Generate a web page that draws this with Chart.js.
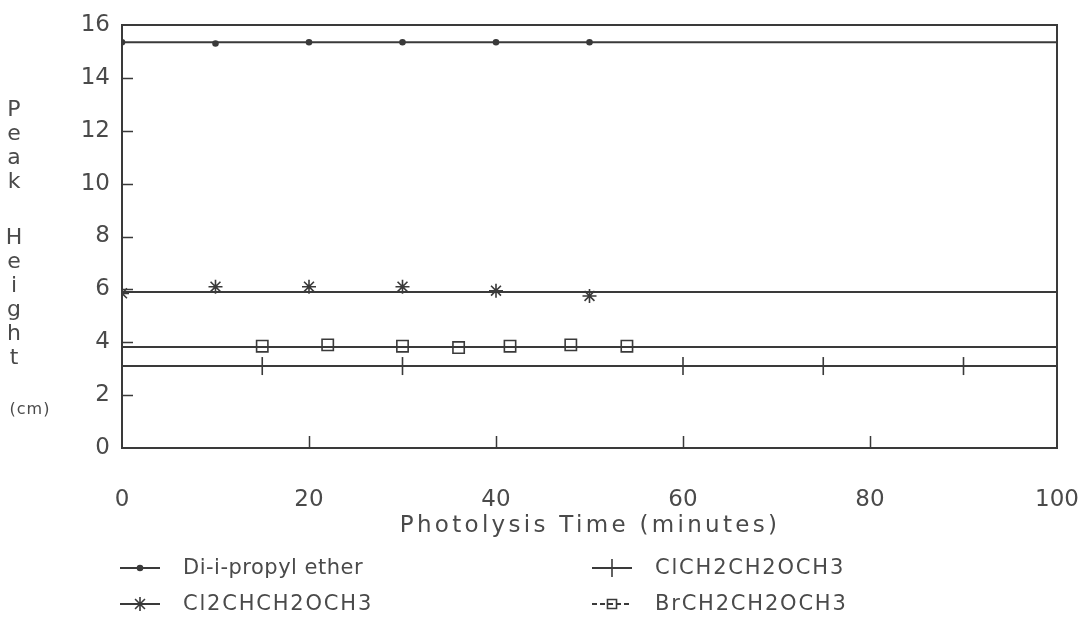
<!DOCTYPE html>
<html>
<head>
<meta charset="utf-8">
<script src="https://cdn.jsdelivr.net/npm/chart.js@4.4.1/dist/chart.umd.min.js"></script>
<style>
  html, body { margin: 0; padding: 0; background: #ffffff; }
  #wrap { width: 1080px; height: 626px; }
</style>
</head>
<body>
<div id="wrap"><canvas id="chart" width="1080" height="626"></canvas></div>
<script>
// Peak heights (cm) of each compound against photolysis time (minutes)
const seriesNames = ['Di-i-propyl ether', 'Cl2CHCH2OCH3', 'ClCH2CH2OCH3', 'BrCH2CH2OCH3'];

const etherTimes = [0, 10, 20, 30, 40, 50];
const etherHeights = [15.35, 15.3, 15.35, 15.35, 15.35, 15.35];

const dichloroTimes = [0, 10, 20, 30, 40, 50];
const dichloroHeights = [5.85, 6.1, 6.1, 6.1, 5.95, 5.75];

const chloroTimes = [15, 30, 60, 75, 90];
const chloroHeights = [3.1, 3.1, 3.1, 3.1, 3.1];

const bromoTimes = [15, 22, 30, 36, 41.5, 48, 54];
const bromoHeights = [3.85, 3.9, 3.85, 3.8, 3.85, 3.9, 3.85];

// Level of the flat trend line drawn across the plot for each compound
const trendLevels = [15.35, 5.9, 3.1, 3.82];

const timeRange = [0, 100];
const heightRange = [0, 16];
const yTitleWord1 = ['P', 'e', 'a', 'k'];
const yTitleWord2 = ['H', 'e', 'i', 'g', 'h', 't'];
const yTitleUnit = '(cm)';
const xTitle = 'Photolysis Time (minutes)';

const INK = '#3a3a3a';
const TEXT = '#4a4a4a';
const FONT = "'DejaVu Sans', sans-serif";

const pairs = (xs, ys) => xs.map((t, i) => ({ x: t, y: ys[i] }));
const flat = (v) => [{ x: timeRange[0], y: v }, { x: timeRange[1], y: v }];

const markerStyles = [
  { pointStyle: 'circle', radius: 2.5, rotation: 0, fill: INK },
  { pointStyle: 'star', radius: 7, rotation: 0, fill: 'transparent' },
  { pointStyle: 'line', radius: 9, rotation: 90, fill: 'transparent' },
  { pointStyle: 'rect', radius: 8, rotation: 0, fill: 'transparent' }
];
const seriesTimes = [etherTimes, dichloroTimes, chloroTimes, bromoTimes];
const seriesHeights = [etherHeights, dichloroHeights, chloroHeights, bromoHeights];

const datasets = [];
seriesNames.forEach((name, i) => {
  const m = markerStyles[i];
  datasets.push({
    type: 'scatter',
    label: name,
    data: pairs(seriesTimes[i], seriesHeights[i]),
    pointStyle: m.pointStyle,
    pointRadius: m.radius,
    pointRotation: m.rotation,
    pointBackgroundColor: m.fill,
    pointBorderColor: INK,
    pointBorderWidth: 1.6,
    showLine: false
  });
  datasets.push({
    type: 'line',
    label: name + ' trend',
    data: flat(trendLevels[i]),
    borderColor: INK,
    borderWidth: 2,
    pointRadius: 0,
    fill: false
  });
});

function drawMarker(ctx, i, x, y) {
  const m = markerStyles[i];
  ctx.save();
  ctx.strokeStyle = INK;
  ctx.fillStyle = m.fill;
  ctx.lineWidth = 1.6;
  Chart.helpers.drawPoint(ctx, {
    pointStyle: m.pointStyle, radius: m.radius * (i === 3 ? 0.8 : 1),
    rotation: m.rotation, borderWidth: 1.6
  }, x, y);
  ctx.restore();
}

// Keep library-drawn text at normal spacing
const resetSpacing = {
  id: 'resetSpacing',
  beforeDraw(chart) { chart.ctx.letterSpacing = '0px'; }
};

const decorations = {
  id: 'decorations',
  afterDraw(chart) {
    const { ctx, chartArea: a, scales } = chart;
    const xs = scales.x, ys = scales.y;
    ctx.save();
    ctx.strokeStyle = INK;
    ctx.lineWidth = 2;
    // top and right edges of the frame
    ctx.beginPath();
    ctx.moveTo(a.left, a.top);
    ctx.lineTo(a.right, a.top);
    ctx.lineTo(a.right, a.bottom);
    ctx.stroke();

    // inward tick marks
    ctx.lineWidth = 1.5;
    ctx.beginPath();
    ys.ticks.forEach(t => {
      if (t.value > heightRange[0] && t.value < heightRange[1]) {
        const py = Math.round(ys.getPixelForValue(t.value)) + 0.5;
        ctx.moveTo(a.left, py);
        ctx.lineTo(a.left + 11, py);
      }
    });
    xs.ticks.forEach(t => {
      if (t.value > timeRange[0] && t.value < timeRange[1]) {
        const px = Math.round(xs.getPixelForValue(t.value)) + 0.5;
        ctx.moveTo(px, a.bottom);
        ctx.lineTo(px, a.bottom - 12);
      }
    });
    ctx.stroke();

    // x-axis title, widely spaced
    ctx.fillStyle = TEXT;
    ctx.textAlign = 'center';
    ctx.textBaseline = 'middle';
    ctx.font = '23px ' + FONT;
    ctx.letterSpacing = '3.3px';
    ctx.fillText(xTitle, 590, 526);

    // stacked y-axis title
    ctx.letterSpacing = '0px';
    ctx.font = '22px ' + FONT;
    yTitleWord1.forEach((ch, k) => ctx.fillText(ch, 14, 110 + k * 24));
    yTitleWord2.forEach((ch, k) => ctx.fillText(ch, 14, 238 + k * 24));
    ctx.font = '16px ' + FONT;
    ctx.letterSpacing = '1px';
    ctx.fillText(yTitleUnit, 30, 410);

    // legend: two columns, two rows
    const cells = [
      { i: 0, x: 120, y: 568 },
      { i: 2, x: 592, y: 568 },
      { i: 1, x: 120, y: 604 },
      { i: 3, x: 592, y: 604 }
    ];
    ctx.font = '21px ' + FONT;
    ctx.textAlign = 'left';
    cells.forEach(c => {
      const w = 40;
      ctx.strokeStyle = INK;
      ctx.lineWidth = 2;
      ctx.beginPath();
      if (c.i === 3) {
        ctx.setLineDash([5, 3]);
      }
      ctx.moveTo(c.x, c.y);
      ctx.lineTo(c.x + w, c.y);
      ctx.stroke();
      ctx.setLineDash([]);
      drawMarker(ctx, c.i, c.x + w / 2, c.y);
      ctx.fillStyle = TEXT;
      ctx.letterSpacing = c.i === 0 ? '0.5px' : '1.8px';
      ctx.fillText(seriesNames[c.i], c.x + w + 23, c.y + 1);
    });
    ctx.letterSpacing = '0px';
    ctx.restore();
  }
};

new Chart(document.getElementById('chart'), {
  data: { datasets },
  options: {
    responsive: false,
    animation: false,
    layout: { padding: { left: 0, top: 25, right: 23, bottom: 86 } },
    plugins: {
      legend: { display: false },
      tooltip: { enabled: false }
    },
    scales: {
      x: {
        type: 'linear',
        min: timeRange[0],
        max: timeRange[1],
        grid: { display: false, drawTicks: false },
        border: { display: true, color: INK, width: 2 },
        ticks: { stepSize: 20, padding: 38, color: TEXT, font: { family: FONT, size: 23 } },
        afterFit(scale) {
          scale.height = 92;
          scale.paddingRight = 0;
          scale.paddingLeft = 0;
        }
      },
      y: {
        type: 'linear',
        min: heightRange[0],
        max: heightRange[1],
        grid: { display: false, drawTicks: false },
        border: { display: true, color: INK, width: 2 },
        ticks: { stepSize: 2, padding: 12, color: TEXT, font: { family: FONT, size: 23 } },
        afterFit(scale) {
          scale.width = 122;
          scale.paddingTop = 0;
          scale.paddingBottom = 0;
        }
      }
    }
  },
  plugins: [resetSpacing, decorations]
});
</script>
</body>
</html>
